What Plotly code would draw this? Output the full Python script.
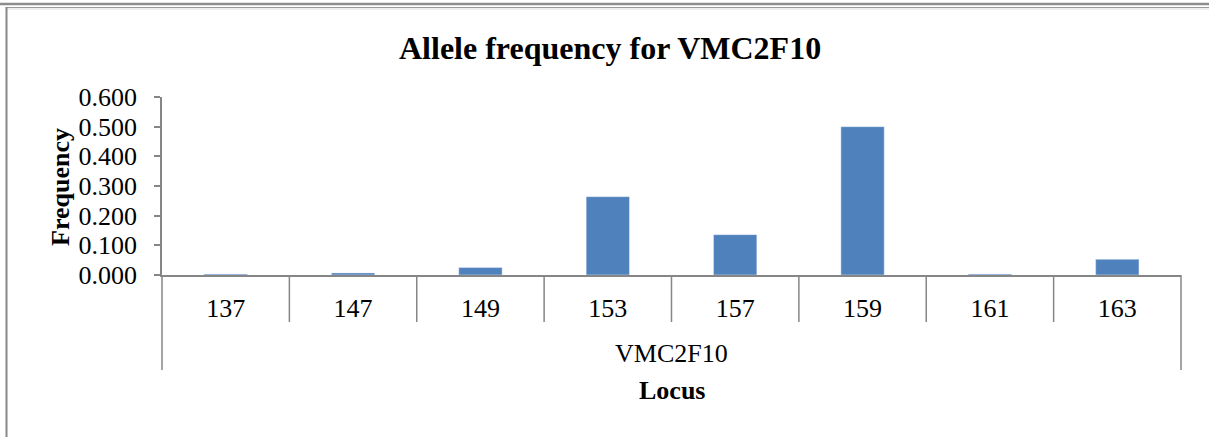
import plotly.graph_objects as go

alleles = ["137", "147", "149", "153", "157", "159", "161", "163"]
frequency = [0.003, 0.007, 0.025, 0.264, 0.136, 0.500, 0.003, 0.053]
y_ticks = [0.0, 0.1, 0.2, 0.3, 0.4, 0.5, 0.6]
group_label = "VMC2F10"
title_text = "Allele frequency for VMC2F10"

W, H = 1209, 437
L, R, T, B = 162, 28, 97, 162
pw, ph = W - L - R, H - T - B

def px(x):
    return (x - L) / pw

def py(y):
    return (H - B - y) / ph

FONT = "Liberation Serif, Times New Roman, serif"
AX = "#868686"

fig = go.Figure(go.Bar(x=alleles, y=frequency, marker_color="#4F81BD", width=0.34))

shapes = []
n = len(alleles)
for k in range(n + 1):
    bottom = -95 / ph if k in (0, n) else -47 / ph
    shapes.append(dict(type="line", xref="x domain", yref="paper", x0=k / n, x1=k / n,
                       y0=0, y1=bottom, line=dict(color=AX, width=1.5)))
# page frame
shapes.append(dict(type="line", xref="paper", yref="paper", x0=px(0), x1=px(W), y0=py(4), y1=py(4),
                   line=dict(color="#8c8c8c", width=2.5)))
shapes.append(dict(type="line", xref="paper", yref="paper", x0=px(7), x1=px(W), y0=py(7.5), y1=py(7.5),
                   line=dict(color="#9a9a9a", width=1)))
shapes.append(dict(type="line", xref="paper", yref="paper", x0=px(7), x1=px(W), y0=py(9), y1=py(9),
                   line=dict(color="#dddddd", width=1)))
shapes.append(dict(type="line", xref="paper", yref="paper", x0=px(6.5), x1=px(6.5), y0=py(7), y1=py(H),
                   line=dict(color="#888888", width=2)))

annotations = [
    dict(text=group_label, xref="x domain", yref="paper", x=0.5, y=py(353), showarrow=False,
         xanchor="center", yanchor="middle", font=dict(family=FONT, size=26, color="black")),
    dict(text="<b>Locus</b>", xref="x domain", yref="paper", x=0.5, y=py(390), showarrow=False,
         xanchor="center", yanchor="middle", font=dict(family=FONT, size=26, color="black")),
    dict(text="<b>Frequency</b>", xref="paper", yref="paper", x=px(60), y=py(187), showarrow=False,
         textangle=-90, xanchor="center", yanchor="middle", font=dict(family=FONT, size=26, color="black")),
    dict(text="<b>" + title_text + "</b>", xref="paper", yref="paper", x=px(610), y=py(48), showarrow=False,
         xanchor="center", yanchor="middle", font=dict(family=FONT, size=32, color="black")),
]

fig.update_layout(
    width=W, height=H,
    margin=dict(l=L, r=R, t=T, b=B, pad=0),
    paper_bgcolor="white", plot_bgcolor="white",
    showlegend=False,
    font=dict(family=FONT, size=26, color="black"),
    shapes=shapes,
    annotations=annotations,
    xaxis=dict(type="category", range=[-0.5, n - 0.5], showline=True, linecolor=AX, linewidth=1.5,
               ticks="", showgrid=False, zeroline=False, ticklabelstandoff=9,
               tickfont=dict(family=FONT, size=26, color="black")),
    yaxis=dict(range=[0, 0.6], tickvals=y_ticks, tickformat=".3f", showline=True, linecolor=AX,
               linewidth=1.5, ticks="outside", ticklen=6, tickcolor=AX, tickwidth=1.5, showgrid=False,
               zeroline=False, ticklabelstandoff=12, tickfont=dict(family=FONT, size=26, color="black")),
)

fig.write_html("out.html", config={"displayModeBar": False},
               post_script="document.body.style.margin='0';document.body.style.overflow='hidden';")
